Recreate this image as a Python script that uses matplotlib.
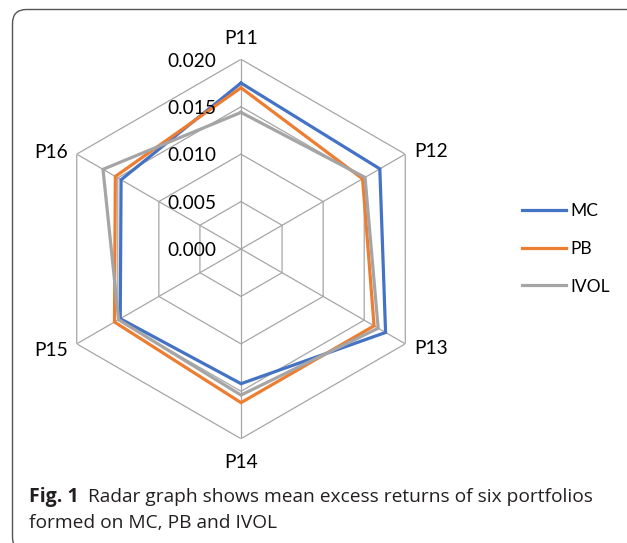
"""
Radar graph of mean excess returns of six portfolios (MC, PB, IVOL).
"""

import matplotlib.pyplot as plt
import numpy as np
from matplotlib.patches import FancyBboxPatch
from matplotlib.transforms import offset_copy

categories = ['P11', 'P12', 'P13', 'P14', 'P15', 'P16']
mc = [0.0175, 0.0169, 0.0176, 0.0142, 0.0147, 0.0146]
pb = [0.0170, 0.0148, 0.0162, 0.0162, 0.0154, 0.0153]
ivol = [0.0144, 0.0151, 0.0167, 0.0154, 0.0149, 0.0168]
r_ticks = [0.000, 0.005, 0.010, 0.015, 0.020]
series_names = ['MC', 'PB', 'IVOL']
series_colors = ['#4472C4', '#ED7D31', '#A5A5A5']

W, H = 627, 543


def main():
    plt.rcParams['font.family'] = ['Lato', 'DejaVu Sans']
    fig = plt.figure(figsize=(W / 100, H / 100), dpi=100)

    # background axes in pixel coords (y up) for the frame and caption
    bg = fig.add_axes([0, 0, 1, 1])
    bg.set_xlim(0, W)
    bg.set_ylim(0, H)
    bg.axis('off')
    frame = FancyBboxPatch((12.5, H - 551), 700, 541.5,
                           boxstyle='round,pad=0,rounding_size=14',
                           fill=False, edgecolor='#555555', lw=1.0, clip_on=False)
    bg.add_patch(frame)

    cap_font = ['Liberation Sans Narrow', 'Open Sans', 'DejaVu Sans']
    t1 = bg.text(29, H - 502, 'Fig. 1', fontsize=14, fontweight='bold', family=cap_font,
                 ha='left', va='baseline', color='#231f20')
    fig.canvas.draw()
    ext = t1.get_window_extent()
    bg.text(ext.x1 + 9, H - 502, 'Radar graph shows mean excess returns of six portfolios',
            fontsize=13.8, family=cap_font, ha='left', va='baseline', color='#231f20')
    bg.text(29, H - 528, 'formed on MC, PB and IVOL', fontsize=13.8, family=cap_font,
            ha='left', va='baseline', color='#231f20')

    # radar axes: centre (241, 249), radius ~190 px
    R = 189.7
    ax = fig.add_axes([(241 - R) / W, (H - 249 - R) / H, 2 * R / W, 2 * R / H],
                      projection='polar')
    ax.set_theta_offset(np.pi / 2)
    ax.set_theta_direction(-1)
    ax.set_ylim(0, r_ticks[-1])
    ax.grid(False)
    ax.spines['polar'].set_visible(False)
    ax.set_xticks([])
    ax.set_yticks([])
    ax.patch.set_visible(False)

    n = len(categories)
    angles = np.linspace(0, 2 * np.pi, n, endpoint=False)
    closed = np.append(angles, angles[0])

    grid_kw = dict(color='#a6a6a6', lw=0.9, zorder=1)
    for r in r_ticks[1:]:
        ax.plot(closed, [r] * (n + 1), **grid_kw)
    for a in angles:
        ax.plot([a, a], [0, r_ticks[-1]], **grid_kw)

    for vals, name, col in zip([mc, pb, ivol], series_names, series_colors):
        v = list(vals) + [vals[0]]
        ax.plot(closed, v, color=col, lw=2.3, label=name, zorder=3,
                solid_joinstyle='miter')

    # radial tick labels, left of the top spoke
    for r in r_ticks:
        tr = offset_copy(ax.transData, fig=fig, x=-24.3, y=-7.3, units='dots')
        ax.text(0, r, f'{r:.3f}', transform=tr, ha='right', va='baseline',
                fontsize=13.8, color='#000000')

    # category labels
    offsets = [(0, 15, 'center'), (9, -2.7, 'left'), (9, -10.6, 'left'),
               (0, -29.3, 'center'), (-8.4, -11.7, 'right'), (-8.4, -4, 'right')]
    for a, lab, (dx, dy, ha) in zip(angles, categories, offsets):
        tr = offset_copy(ax.transData, fig=fig, x=dx, y=dy, units='dots')
        ax.text(a, r_ticks[-1], lab, transform=tr, ha=ha, va='baseline',
                fontsize=13.8, color='#000000')

    fig.legend(loc='center left', bbox_to_anchor=(521.7 / W, (H - 249) / H),
               frameon=False, fontsize=12.5, handlelength=2.53, handletextpad=0.25,
               labelspacing=1.24, borderpad=0, borderaxespad=0)

    fig.savefig('out.png', dpi=100)
    plt.close(fig)


if __name__ == "__main__":
    main()
